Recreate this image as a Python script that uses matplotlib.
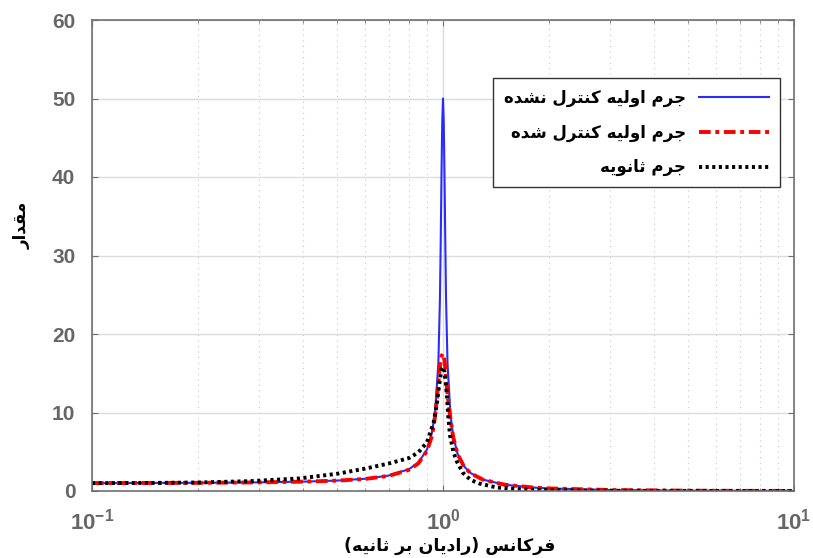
import matplotlib
matplotlib.use('Agg')
import matplotlib.pyplot as plt
import numpy as np

# frequency ratio (rad/s) and magnitudes
freq_blue = [0.1, 0.2, 0.3, 0.4, 0.5, 0.6, 0.7, 0.8, 0.85, 0.9, 0.93, 0.95, 0.97,
             0.98, 0.985, 0.99, 0.995, 1.0, 1.005, 1.01, 1.015, 1.02, 1.03, 1.05,
             1.07, 1.1, 1.15, 1.2, 1.3, 1.5, 1.8, 2.0, 3.0, 5.0, 7.0, 10.0]
mag_blue = [1.01, 1.04, 1.10, 1.19, 1.33, 1.56, 1.96, 2.78, 3.6, 5.26, 7.4, 10.2, 16.3,
            24.4, 31.5, 40.0, 47.0, 50.0, 47.0, 40.0, 32.0, 24.6, 16.3, 9.75,
            6.9, 4.76, 3.1, 2.27, 1.45, 0.8, 0.45, 0.33, 0.125, 0.042, 0.021, 0.01]

freq_red = [0.1, 0.2, 0.3, 0.4, 0.5, 0.6, 0.7, 0.8, 0.85, 0.9, 0.93, 0.95, 0.97,
            0.98, 0.99, 1.0, 1.01, 1.02, 1.03, 1.05, 1.07, 1.1, 1.15, 1.2, 1.3,
            1.5, 1.8, 2.0, 3.0, 5.0, 7.0, 10.0]
mag_red = [1.01, 1.04, 1.10, 1.19, 1.32, 1.54, 1.92, 2.7, 3.5, 5.1, 7.0, 9.6, 13.8,
           15.9, 17.2, 17.5, 16.6, 14.6, 12.3, 9.2, 6.8, 4.7, 3.05, 2.25, 1.44,
           0.8, 0.45, 0.33, 0.125, 0.042, 0.021, 0.01]

freq_black = [0.1, 0.15, 0.2, 0.28, 0.39, 0.5, 0.6, 0.7, 0.8, 0.85, 0.9, 0.94, 0.96,
              0.975, 0.99, 1.0, 1.01, 1.025, 1.035, 1.047, 1.07, 1.094, 1.14, 1.2,
              1.27, 1.42, 1.77, 2.5, 4.0, 10.0]
mag_black = [1.0, 1.03, 1.08, 1.25, 1.6, 2.2, 2.85, 3.5, 4.2, 4.9, 6.2, 8.7, 11.0,
             13.5, 15.5, 15.8, 15.2, 12.5, 9.5, 7.1, 5.0, 3.8, 2.3, 1.4,
             0.95, 0.45, 0.15, 0.05, 0.015, 0.003]

legend_labels = ['جرم اولیه کنترل نشده', 'جرم اولیه کنترل شده', 'جرم ثانویه']
xlabel_text = 'فرکانس (رادیان بر ثانیه)'
ylabel_text = 'مقدار'

# minimal arabic/persian shaping: (isolated, final, initial, medial)
FORMS = {
    'ا': ('\uFE8D', '\uFE8E', None, None),
    'ب': ('\uFE8F', '\uFE90', '\uFE91', '\uFE92'),
    'ت': ('\uFE95', '\uFE96', '\uFE97', '\uFE98'),
    'ث': ('\uFE99', '\uFE9A', '\uFE9B', '\uFE9C'),
    'ج': ('\uFE9D', '\uFE9E', '\uFE9F', '\uFEA0'),
    'د': ('\uFEA9', '\uFEAA', None, None),
    'ر': ('\uFEAD', '\uFEAE', None, None),
    'س': ('\uFEB1', '\uFEB2', '\uFEB3', '\uFEB4'),
    'ش': ('\uFEB5', '\uFEB6', '\uFEB7', '\uFEB8'),
    'ف': ('\uFED1', '\uFED2', '\uFED3', '\uFED4'),
    'ق': ('\uFED5', '\uFED6', '\uFED7', '\uFED8'),
    'ل': ('\uFEDD', '\uFEDE', '\uFEDF', '\uFEE0'),
    'م': ('\uFEE1', '\uFEE2', '\uFEE3', '\uFEE4'),
    'ن': ('\uFEE5', '\uFEE6', '\uFEE7', '\uFEE8'),
    'ه': ('\uFEE9', '\uFEEA', '\uFEEB', '\uFEEC'),
    'و': ('\uFEED', '\uFEEE', None, None),
    'ک': ('\uFB8E', '\uFB8F', '\uFB90', '\uFB91'),
    'ی': ('\uFBFC', '\uFBFD', '\uFBFE', '\uFBFF'),
}
MIRROR = {'(': ')', ')': '('}


def rtl(s):
    out = []
    for i, c in enumerate(s):
        if c not in FORMS:
            out.append(c)
            continue
        prev = s[i - 1] if i > 0 else ''
        nxt = s[i + 1] if i < len(s) - 1 else ''
        j_prev = prev in FORMS and FORMS[prev][2] is not None
        j_next = FORMS[c][2] is not None and nxt in FORMS
        iso, fin, ini, med = FORMS[c]
        if j_prev and j_next:
            out.append(med)
        elif j_prev:
            out.append(fin)
        elif j_next:
            out.append(ini)
        else:
            out.append(iso)
    return ''.join(MIRROR.get(c, c) for c in reversed(out))


plt.rcParams['font.family'] = ['Liberation Sans', 'DejaVu Sans']
plt.rcParams['font.weight'] = 'bold'
plt.rcParams['mathtext.fontset'] = 'custom'
plt.rcParams['mathtext.bf'] = 'Liberation Sans:bold'
plt.rcParams['mathtext.rm'] = 'Liberation Sans:bold'

fig = plt.figure(figsize=(8.13, 5.58), dpi=100)
ax = fig.add_axes([92 / 813, 1 - 491 / 558, 702 / 813, 471 / 558])

ax.plot(freq_blue, mag_blue, color='#2b2bff', lw=1.5, label=rtl(legend_labels[0]))
ax.plot(freq_red, mag_red, color='#ff0000', lw=2.8, ls=(0, (3, 1.2, 1, 1.2)),
        label=rtl(legend_labels[1]))
ax.plot(freq_black, mag_black, color='black', lw=2.8, ls=(0, (0.8, 0.9)),
        label=rtl(legend_labels[2]))

ax.set_xscale('log')
ax.set_xlim(0.1, 10)
ax.set_ylim(0, 60)
ax.set_yticks(np.arange(0, 61, 10))
ax.set_xticks([0.1, 1, 10])
ax.set_xticklabels([r'$\mathbf{10^{-1}}$', r'$\mathbf{10^{0}}$', r'$\mathbf{10^{1}}$'])

ax.grid(True, which='major', color='#dcdcdc', lw=1.0, ls='-')
ax.grid(True, which='minor', axis='x', color='#c8c8c8', lw=0.8, ls=(0, (1, 4)))
ax.set_axisbelow(True)

for sp in ax.spines.values():
    sp.set_color('#707070')
    sp.set_linewidth(1.2)

ax.tick_params(which='both', direction='in', top=True, right=True, colors='#707070',
               labelcolor='#666666')
ax.tick_params(which='major', length=4, labelsize=15)
ax.tick_params(axis='y', which='major', pad=12)
ax.tick_params(axis='x', which='major', pad=13, labelsize=16)
ax.tick_params(which='minor', length=2.5)

ax.set_xlabel(rtl(xlabel_text), fontsize=12.5, fontweight='bold', family='DejaVu Sans')
ax.xaxis.set_label_coords(0.51, -0.098)
ax.set_ylabel(rtl(ylabel_text), fontsize=12, fontweight='bold', family='DejaVu Sans')
ax.yaxis.set_label_coords(-0.088, 0.565)

leg = ax.legend(loc='upper right', bbox_to_anchor=(0.98, 0.877), borderaxespad=0,
                markerfirst=False, fancybox=False, framealpha=1, handlelength=4.2,
                prop={'size': 12, 'weight': 'bold', 'family': 'DejaVu Sans'},
                borderpad=0.65, labelspacing=1.0)
leg.get_frame().set_edgecolor('#333333')
leg.get_frame().set_linewidth(1.0)

fig.savefig('out.png', dpi=100)
